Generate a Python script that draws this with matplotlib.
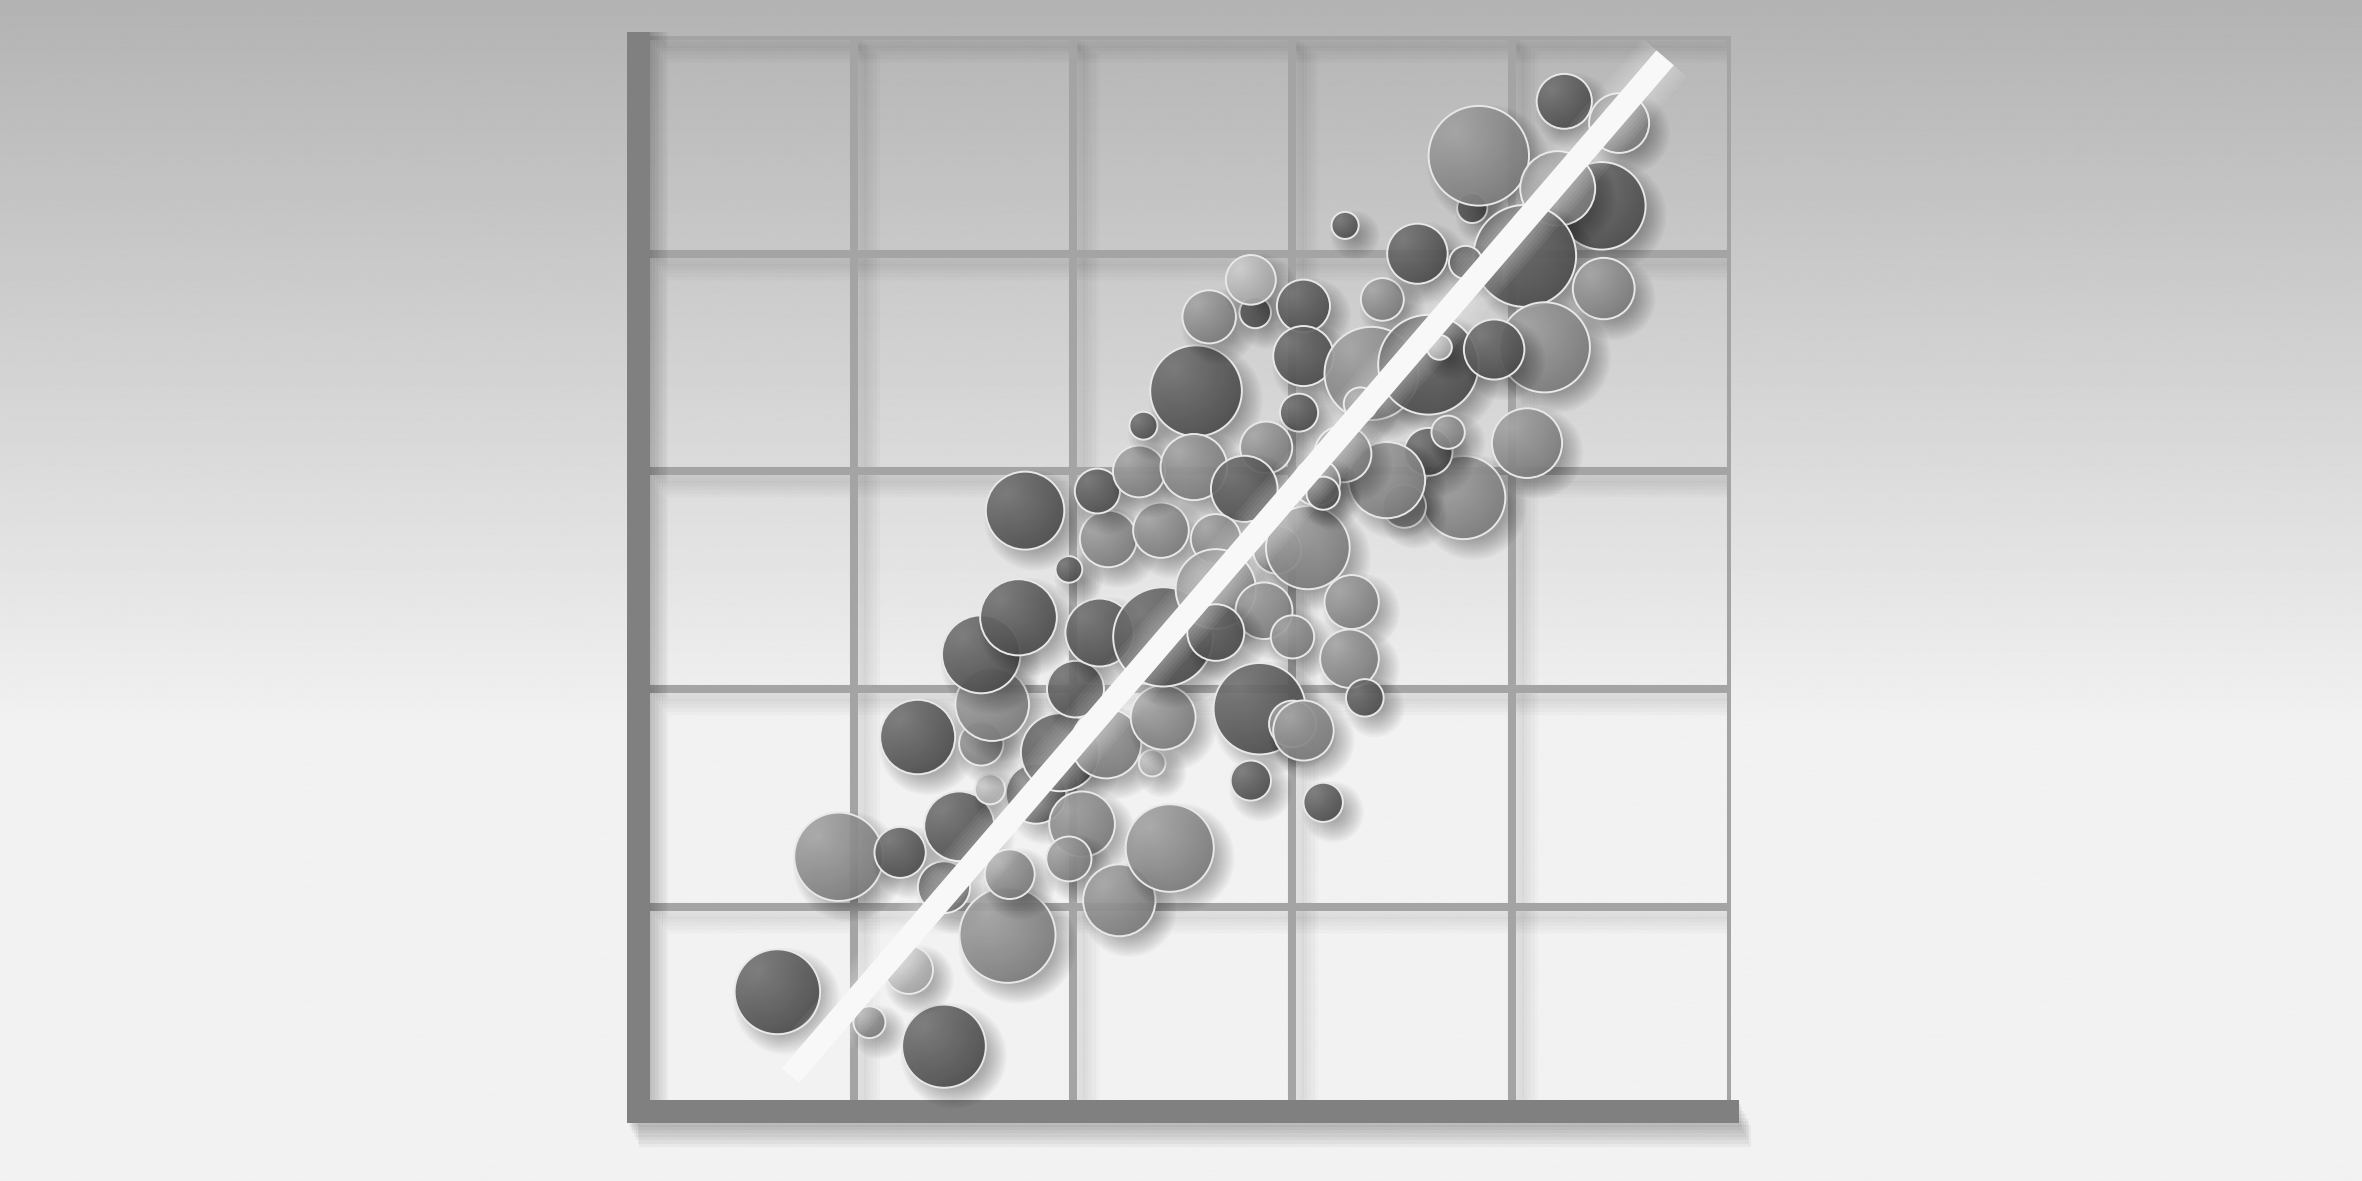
import numpy as np
import matplotlib
matplotlib.use("Agg")
import matplotlib.pyplot as plt
from matplotlib.patches import Circle, Rectangle
from matplotlib.colors import LinearSegmentedColormap
from matplotlib.transforms import offset_copy

# bubbles, in grid units (one grid cell = 1), listed in drawing order
bubble_x = [1.83,
            0.65, 1.07, 1.41, 1.25, 0.93, 1.21, 1.41, 1.48, 1.70, 1.71,
            1.62, 1.29, 1.58, 1.63, 1.58, 1.75, 1.94, 2.01, 2.15, 2.36,
            2.04, 1.98, 2.21, 2.44, 2.12, 2.41, 2.41, 1.98, 1.78, 2.16,
            2.40, 2.11, 2.30, 2.32, 2.56, 2.55, 2.62, 2.83, 2.81, 3.05,
            3.05, 3.03, 2.88, 2.78, 2.65, 2.93, 3.07, 2.65, 2.87, 2.65,
            3.00, 3.27, 3.26, 2.85, 3.00, 3.05, 3.33, 2.81, 3.14, 3.24,
            3.41, 3.57, 3.36, 3.62, 3.67, 3.82, 3.85, 4.24, 4.49, 4.41,
            4.21, 4.06, 4.42, 4.15, 3.92, 3.79, 3.78, 3.51, 3.62, 3.71,
            4.07, 3.43, 3.23, 3.11, 3.31, 3.14]
bubble_y = [1.52,
            0.61, 0.47, 0.36, 0.71, 1.23, 1.25, 1.09, 1.37, 0.87, 1.15,
            1.54, 1.78, 1.75, 1.93, 2.16, 2.33, 1.71, 2.00, 1.75, 1.66,
            1.38, 1.22, 1.03, 1.27, 2.26, 1.87, 2.24, 2.55, 2.82, 2.69,
            2.73, 2.91, 3.00, 3.21, 3.37, 3.02, 3.71, 3.73, 3.88, 3.76,
            3.53, 3.27, 3.11, 2.92, 2.69, 2.64, 2.65, 2.46, 2.36, 2.26,
            2.24, 2.40, 2.14, 1.91, 1.84, 1.81, 1.96, 1.58, 1.48, 4.13,
            3.79, 4.00, 3.45, 3.49, 3.57, 4.21, 4.45, 4.70, 4.60, 4.22,
            4.30, 3.99, 3.84, 3.57, 3.56, 3.96, 2.88, 2.84, 3.09, 3.18,
            3.13, 2.96, 3.08, 2.95, 3.31, 2.90]
bubble_r = [0.138,
            0.195, 0.073, 0.191, 0.110, 0.203, 0.117, 0.119, 0.160, 0.219, 0.114,
            0.069, 0.171, 0.101, 0.168, 0.179, 0.175, 0.179, 0.130, 0.160, 0.061,
            0.150, 0.103, 0.165, 0.201, 0.156, 0.148, 0.228, 0.061, 0.179, 0.130,
            0.127, 0.103, 0.119, 0.064, 0.209, 0.152, 0.122, 0.072, 0.114, 0.121,
            0.138, 0.087, 0.119, 0.152, 0.114, 0.110, 0.191, 0.183, 0.130, 0.130,
            0.099, 0.124, 0.134, 0.210, 0.107, 0.138, 0.086, 0.092, 0.090, 0.062,
            0.098, 0.138, 0.214, 0.229, 0.057, 0.069, 0.229, 0.126, 0.137, 0.201,
            0.171, 0.234, 0.141, 0.207, 0.138, 0.076, 0.191, 0.099, 0.110, 0.076,
            0.160, 0.175, 0.130, 0.107, 0.076, 0.076]
# D = dark, L = light, W = whitish
bubble_tone = ["D",
               "D", "L", "D", "W", "L", "D", "D", "D", "L", "L",
               "W", "D", "L", "L", "D", "D", "D", "D", "L", "W",
               "L", "L", "L", "L", "D", "L", "D", "D", "D", "L",
               "L", "D", "L", "D", "D", "L", "L", "D", "W", "D",
               "D", "D", "L", "D", "L", "L", "L", "L", "L", "D",
               "L", "L", "L", "D", "L", "L", "D", "D", "D", "D",
               "L", "D", "L", "D", "W", "D", "L", "D", "L", "D",
               "L", "D", "L", "L", "D", "D", "L", "L", "D", "L",
               "L", "L", "L", "L", "L", "D"]

# trend line end points
fit_x = [0.71, 4.70]
fit_y = [0.225, 4.90]

grid_pos = [1, 2, 3, 4, 5]

TONES = {
    "D": LinearSegmentedColormap.from_list("d", ["#767676", "#4a4a4a"]),
    "L": LinearSegmentedColormap.from_list("l", ["#a8a8a8", "#7a7a7a"]),
    "W": LinearSegmentedColormap.from_list("w", ["#d2d2d2", "#a2a2a2"]),
}

# generic shading texture for a ball lit from the upper left
uu, vv = np.meshgrid(np.linspace(-1, 1, 80), np.linspace(-1, 1, 80))
SHADE = np.clip(np.hypot(uu + 0.45, vv - 0.45) / 1.7, 0, 1)

SHADOW_DX = 0.045
SHADOW_DY = 0.045
SHADOW_BLUR = 0.09
SHADOW_STEPS = 10


def draw_bubble(ax, x, y, r, tone, z):
    for k in range(SHADOW_STEPS):
        grow = SHADOW_BLUR * (k / (SHADOW_STEPS - 1.0) - 0.45)
        ax.add_patch(Circle((x + SHADOW_DX, y - SHADOW_DY), r + grow,
                            facecolor="black", edgecolor="none",
                            alpha=0.032, zorder=z))
    rim = Circle((x, y), r, facecolor="none", edgecolor="#e8e8e8",
                 lw=1.4, zorder=z + 0.002)
    ax.add_patch(rim)
    im = ax.imshow(SHADE, cmap=TONES[tone], vmin=0, vmax=1,
                   extent=(x - r, x + r, y - r, y + r), origin="lower",
                   alpha=0.9, zorder=z + 0.001, interpolation="bilinear",
                   aspect="auto")
    im.set_clip_path(rim)


fig = plt.figure(figsize=(23.62, 11.81), dpi=100)

# page background gradient
bg = fig.add_axes([0, 0, 1, 1], zorder=0)
t = np.linspace(0, 1, 600)[:, None]
grad = 179 + (242 - 179) * np.clip(t / 0.62, 0, 1)
bg.imshow(grad, cmap="gray", vmin=0, vmax=255, aspect="auto",
          extent=(0, 1, 0, 1), interpolation="bilinear")
bg.set_axis_off()

ax = fig.add_axes([0.2688, 0.0478, 0.4640, 0.9217], zorder=1)
ax.set_xlim(0, 5)
ax.set_ylim(0, 5)
ax.set_axis_off()
ax.patch.set_alpha(0)

# soft shadows of the grid lines
for k in range(1, 7):
    tr = offset_copy(ax.transData, fig=fig, x=3 * k, y=-3 * k, units="dots")
    ax.vlines(grid_pos, 0.1, 5, color="black", lw=5.8 + k, alpha=0.02,
              transform=tr, zorder=1)
    ax.hlines(grid_pos, 0.07, 5, color="black", lw=5.8 + k, alpha=0.02,
              transform=tr, zorder=1)
ax.vlines(grid_pos, 0.1, 5, color="#a4a4a4", lw=5.8, zorder=1.5)
ax.hlines(grid_pos, 0.07, 5, color="#a4a4a4", lw=5.8, zorder=1.5,
          capstyle="projecting")

# axis bars with their shadows
for k in range(1, 8):
    ax.add_patch(Rectangle((-0.036 + 0.012 * k, 0.007), 0.104, 5.011,
                           facecolor="black", edgecolor="none", alpha=0.03,
                           zorder=1.6, clip_on=False))
    ax.add_patch(Rectangle((-0.036 + 0.008 * k, 0.007 - 0.016 * k), 5.072, 0.105,
                           facecolor="black", edgecolor="none", alpha=0.04,
                           zorder=1.6, clip_on=False))
ax.add_patch(Rectangle((-0.036, 0.007), 0.104, 5.011, facecolor="#808080",
                       edgecolor="none", zorder=2, clip_on=False))
ax.add_patch(Rectangle((-0.036, 0.007), 5.072, 0.105, facecolor="#808080",
                       edgecolor="none", zorder=2, clip_on=False))

for i, (x, y, r, tone) in enumerate(zip(bubble_x, bubble_y, bubble_r, bubble_tone)):
    draw_bubble(ax, x, y, r, tone, 3 + i * 0.01)

# trend line with a soft glow
for k in range(1, 6):
    ax.plot(fit_x, fit_y, color="white", lw=16.5 + 5 * k, alpha=0.06,
            solid_capstyle="butt", zorder=9, clip_on=False)
ax.plot(fit_x, fit_y, color="#f8f8f8", lw=16.5, solid_capstyle="butt",
        zorder=10, clip_on=False)

ax.set_xlim(0, 5)
ax.set_ylim(0, 5)

fig.savefig("out.png", dpi=100)
